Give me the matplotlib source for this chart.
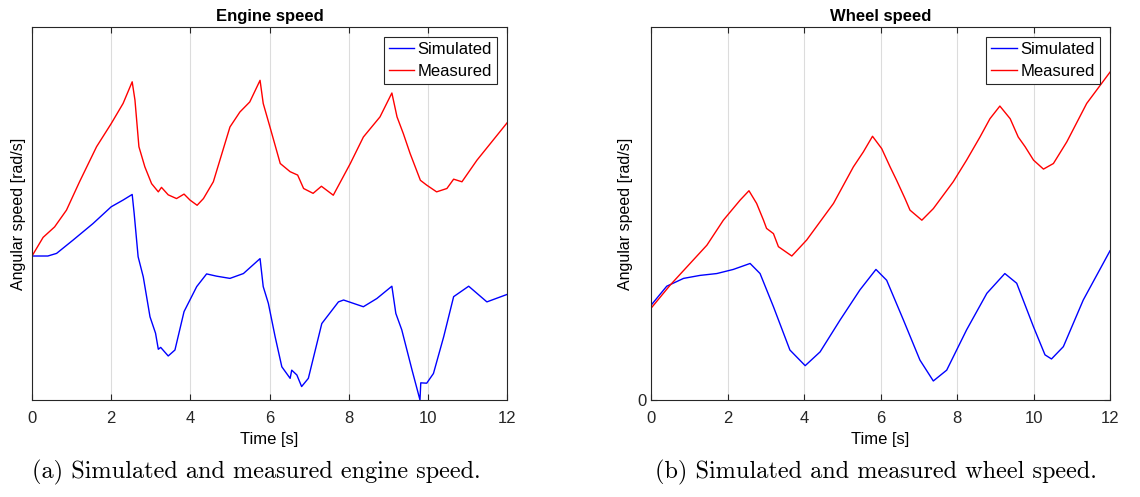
import matplotlib.pyplot as plt

# engine speed (arbitrary units, axis 0..100)
eng_t_meas = [0, 0.28, 0.57, 0.87, 1.2, 1.63, 2.0, 2.3, 2.53, 2.6, 2.7, 2.85, 3.02, 3.19, 3.27,
              3.44, 3.65, 3.84, 3.99, 4.17, 4.33, 4.58, 5.0, 5.25, 5.5, 5.76, 5.84, 6.01, 6.27,
              6.52, 6.71, 6.86, 7.1, 7.31, 7.61, 8.04, 8.37, 8.79, 9.09, 9.22, 9.38, 9.55, 9.81,
              9.97, 10.22, 10.48, 10.65, 10.86, 11.24, 12.0]
eng_meas = [38.6, 43.6, 46.4, 50.9, 58.5, 67.9, 74.1, 79.5, 85.3, 80.4, 67.9, 62.5, 58.0, 55.8, 57.0,
            55.0, 54.0, 55.2, 53.6, 52.2, 54.0, 58.5, 73.2, 77.2, 79.9, 85.7, 79.5, 73.2, 63.4,
            61.2, 60.3, 56.7, 55.4, 57.3, 54.9, 63.4, 70.5, 75.9, 82.3, 75.9, 71.4, 66.1, 58.9,
            57.6, 55.8, 56.7, 59.2, 58.5, 64.3, 74.3]
eng_t_sim = [0, 0.4, 0.62, 1.04, 1.54, 2.0, 2.3, 2.53, 2.58, 2.68, 2.81, 2.98, 3.12, 3.19, 3.25,
             3.44, 3.61, 3.84, 4.16, 4.41, 4.66, 5.0, 5.34, 5.76, 5.84, 5.97, 6.14, 6.31, 6.52,
             6.56, 6.69, 6.81, 6.98, 7.32, 7.74, 7.87, 8.37, 8.71, 9.09, 9.19, 9.34, 9.6, 9.8,
             9.82, 9.97, 10.14, 10.4, 10.65, 11.03, 11.49, 12.0]
eng_sim = [38.6, 38.6, 39.3, 42.9, 47.3, 51.8, 53.6, 55.1, 50.0, 38.4, 33.0, 22.3, 17.9, 13.6, 14.1,
           11.8, 13.4, 23.7, 30.4, 33.8, 33.2, 32.6, 33.9, 37.9, 30.4, 25.9, 17.0, 8.9, 5.8,
           8.0, 6.7, 3.6, 5.8, 20.5, 26.3, 26.8, 25.0, 27.2, 30.5, 23.2, 18.8, 8.0, 0.0,
           4.6, 4.5, 7.1, 17.0, 27.7, 30.5, 26.3, 28.3]

# wheel speed
whl_t_meas = [0, 0.5, 1.02, 1.46, 1.89, 2.33, 2.56, 2.76, 2.94, 3.02, 3.2, 3.33, 3.68, 4.07, 4.77,
              5.29, 5.55, 5.79, 6.03, 6.25, 6.42, 6.64, 6.77, 7.08, 7.38, 7.9, 8.25, 8.6, 8.86,
              9.12, 9.39, 9.6, 9.78, 10.0, 10.26, 10.52, 10.87, 11.39, 12.0]
whl_meas = [24.6, 30.8, 36.6, 41.5, 48.2, 53.6, 56.1, 52.7, 48.2, 46.0, 44.6, 41.1, 38.6, 42.9, 52.7,
            62.5, 66.5, 70.7, 67.4, 62.5, 58.9, 54.0, 50.9, 48.2, 51.3, 58.5, 64.3, 70.5, 75.4,
            78.8, 75.4, 70.5, 67.9, 64.3, 61.9, 63.4, 69.2, 79.5, 87.9]
whl_t_sim = [0, 0.41, 0.85, 1.28, 1.72, 2.15, 2.59, 2.85, 3.2, 3.63, 4.03, 4.42, 4.94, 5.46, 5.88,
             6.16, 6.6, 7.03, 7.38, 7.73, 8.25, 8.78, 9.25, 9.56, 10.0, 10.3, 10.47, 10.78, 11.3, 12.0]
whl_sim = [25.4, 30.5, 32.6, 33.4, 33.9, 35.0, 36.6, 33.9, 25.0, 13.4, 9.2, 12.9, 21.4, 29.5, 35.0,
           32.1, 21.4, 10.7, 5.1, 8.0, 18.8, 28.6, 33.9, 31.3, 19.6, 12.1, 11.0, 14.3, 26.8, 40.0]

xticks = [0, 2, 4, 6, 8, 10, 12]

plt.rcParams['font.family'] = ['Liberation Sans', 'DejaVu Sans']

fig = plt.figure(figsize=(11.4, 4.97), dpi=100)
ax1 = fig.add_axes([0.0281, 0.1952, 0.4167, 0.7505])
ax2 = fig.add_axes([0.5711, 0.1952, 0.4026, 0.7505])

panels = [
    (ax1, 'Engine speed', eng_t_sim, eng_sim, eng_t_meas, eng_meas, []),
    (ax2, 'Wheel speed', whl_t_sim, whl_sim, whl_t_meas, whl_meas, [0]),
]
for ax, title, ts, ys, tm, ym, yt in panels:
    ax.plot(ts, ys, color='#0000ff', lw=1.0, label='Simulated')
    ax.plot(tm, ym, color='#ff0000', lw=1.0, label='Measured')
    ax.set_xlim(0, 12)
    ax.set_ylim(0, 100)
    ax.set_xticks(xticks)
    ax.set_yticks(yt)
    ax.grid(axis='x', color='#dcdcdc', lw=0.8)
    ax.tick_params(direction='in', top=True, right=True, labelsize=12, colors='#262626',
                   length=4)
    ax.tick_params(axis='x', pad=8)
    ax.tick_params(axis='y', pad=3)
    for s in ax.spines.values():
        s.set_color('#262626')
        s.set_linewidth(0.8)
    ax.set_title(title, fontsize=12, fontweight='bold', pad=4)
    ax.set_xlabel('Time [s]', fontsize=12, labelpad=4)
    ax.set_ylabel('Angular speed [rad/s]', fontsize=11.5, labelpad=3 if yt else 4)
    leg = ax.legend(loc='upper right', fontsize=12, fancybox=False, framealpha=1,
                    edgecolor='#262626', handlelength=1.55, borderpad=0.3,
                    labelspacing=0.4, handletextpad=0.2, borderaxespad=0.6)
    leg.get_frame().set_linewidth(0.8)

fig.text(0.028, 0.05, '(a) Simulated and measured engine speed.', fontsize=17.5,
         family='cmr10', ha='left', va='center')
fig.text(0.5745, 0.05, '(b) Simulated and measured wheel speed.', fontsize=17.5,
         family='cmr10', ha='left', va='center')

fig.savefig('out.png', dpi=100)
